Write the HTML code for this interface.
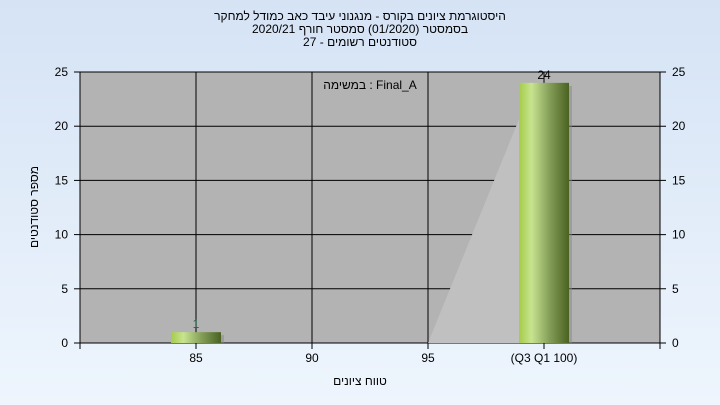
<!DOCTYPE html>
<html><head><meta charset="utf-8"><style>
body{margin:0;width:720px;height:405px;overflow:hidden;background:linear-gradient(#d5e3f5,#eef5fd);font-family:"Liberation Sans",sans-serif}
</style></head><body>
<svg width="720" height="405" style="position:absolute;left:0;top:0">
<defs>
<linearGradient id="bg" x1="0" x2="1" y1="0" y2="0">
<stop offset="0" stop-color="#a4cc48"/><stop offset="0.25" stop-color="#c8e490"/><stop offset="0.6" stop-color="#86a05a"/><stop offset="1" stop-color="#4a6220"/>
</linearGradient>
</defs>
<g font-size="12" text-anchor="middle" fill="#000">
<text x="360" y="20">היסטוגרמת ציונים בקורס - מנגנוני עיבד כאב כמודל למחקר</text>
<text x="360" y="33" direction="rtl">בסמסטר  (01/2020)  סמסטר חורף  2020/21</text>
<text x="360" y="46">סטודנטים רשומים - 27</text>
</g>
<rect x="80" y="72" width="580" height="271" fill="#b3b3b3"/>
<g id="grid"></g>
<g id="marks"></g>
<g id="axes" font-size="12" fill="#000"></g>
<text x="370" y="89" font-size="12" text-anchor="middle">במשימה : Final_A</text>
<text x="360" y="385" font-size="12" text-anchor="middle">טווח ציונים</text>
<text transform="translate(38,207) rotate(-90)" font-size="12" text-anchor="middle">מספר סטודנטים</text>
</svg>
<script>
const categories=["85","90","95","(Q3 Q1 100)"];
const values=[1,0,0,24];
const yTicks=[0,5,10,15,20,25];
const NS="http://www.w3.org/2000/svg";
const L=80,R=660,T=72,B=343,ymax=25;
const step=(R-L)/(categories.length+1);
const xs=i=>L+step*(i+1);
const ys=v=>B-(B-T)*v/ymax;
function mk(t,a,p){const e=document.createElementNS(NS,t);for(const k in a)e.setAttribute(k,a[k]);(p||document.getElementById('marks')).appendChild(e);return e;}
const grid=document.getElementById('grid'),axes=document.getElementById('axes');
yTicks.forEach(v=>{
 const l=mk('line',{x1:L,x2:R+6,y1:ys(v),y2:ys(v),stroke:'#000','stroke-width':1},grid);
 
 
 const t1=mk('line',{x1:L-6,x2:L,y1:ys(v),y2:ys(v),stroke:'#000'},axes);
 
 
 const a=mk('text',{x:L-12,y:ys(v)+4,'text-anchor':'end'},axes);a.textContent=v;
 
 
 const b=mk('text',{x:R+12,y:ys(v)+4,'text-anchor':'start'},axes);b.textContent=v;
 
 
});
[L,...categories.map((c,i)=>xs(i)),R].forEach(x=>{
 const l=mk('line',{x1:x,x2:x,y1:T,y2:B+6,stroke:'#000'},grid);
 
 
});
categories.forEach((c,i)=>{
 const t=mk('text',{x:xs(i),y:B+19,'text-anchor':'middle'},axes);t.textContent=c;
 
 
});
// shading artifact between 95 and last bar
const bw=50;
const sh=mk('polygon',{points:`${xs(2)},${B} ${xs(3)-bw/2},${ys(values[3]*0.86)} ${xs(3)-bw/2},${B}`,fill:'#c0c0c0'});


values.forEach((v,i)=>{
 if(v<=0)return;
 const x=xs(i)-bw/2;
 const s=mk('rect',{x:x+3,y:ys(v)+3,width:bw,height:B-ys(v)-3,fill:'#888',opacity:0.5});
 
 
 const r=mk('rect',{x:x,y:ys(v),width:bw,height:B-ys(v),fill:'url(#bg)'});
 
 
 const t=mk('text',{x:xs(i),y:ys(v)-4,'text-anchor':'middle','font-size':12,fill:v>5?'#000':'#2a5a4a'});t.textContent=v;
 
 
});
</script>
</body></html>
